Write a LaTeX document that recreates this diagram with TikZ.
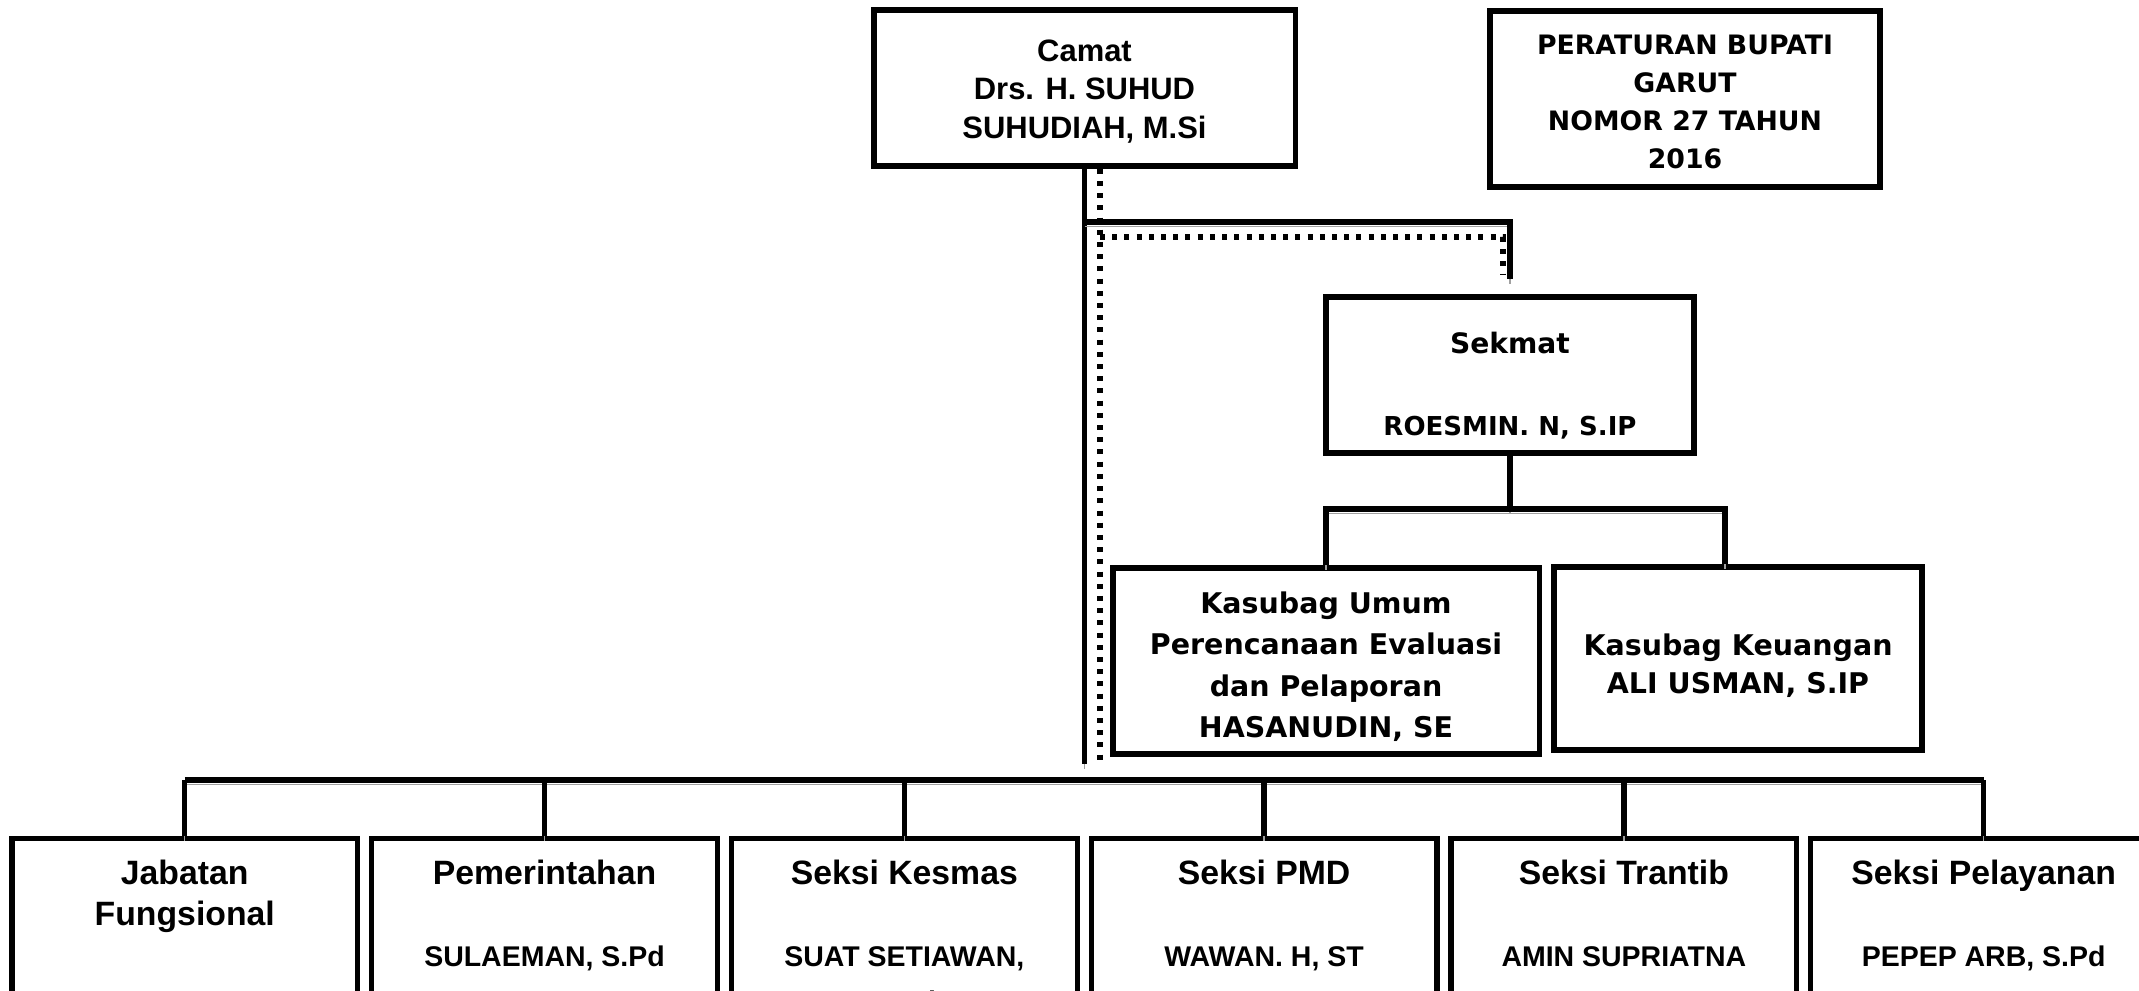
\documentclass[tikz,border=0pt]{standalone}
\usepackage{fontspec}
\setmainfont{Liberation Sans}
\newfontfamily\widefont{DejaVu Sans}
\usetikzlibrary{positioning}
\definecolor{shadowgray}{RGB}{160,160,160}
\newcommand{\nm}[1]{{\fontsize{8.1}{11.7}\selectfont #1}}
\newcommand{\topstrut}[1]{\rule{0pt}{#1}}
\newcommand{\seksitext}[1]{\parbox[c][2.36cm][t]{3.3cm}{\centering\topstrut{0.46cm}#1}}

\begin{document}
\begin{tikzpicture}[x=0.01cm, y=-0.01cm, node distance=0.088cm,
    box/.style={draw, line width=1.5pt, align=center, inner sep=0pt},
    headbox/.style={box, font=\fontsize{8.8}{10.9}\selectfont\bfseries},
    widebox/.style={box, font=\widefont\bfseries\fontsize{8.1}{11.7}\selectfont},
    seksi/.style={box, minimum width=3.455cm, font=\fontsize{9.6}{11.7}\selectfont\bfseries},
    link/.style={line width=1.5pt, preaction={draw=shadowgray, transform canvas={yshift=-1.3pt}}},
    dotlink/.style={line width=1.6pt, dash pattern=on 0.05cm off 0.072cm}]
    \useasboundingbox (0,0) rectangle (2139,990);

    \node [headbox, minimum width=4.21cm, minimum height=1.56cm] (camat) at (1084.5,88) {
      \topstrut{8pt}Camat \\ Drs. H. SUHUD \\ SUHUDIAH, M.Si} ;
    \node [widebox, minimum width=3.9cm, minimum height=1.76cm,
      font=\widefont\bfseries\fontsize{7.6}{10.8}\selectfont] (perbup) at (1685,99) {
      \topstrut{7.4pt}PERATURAN BUPATI \\ GARUT \\ NOMOR 27 TAHUN \\ 2016} ;
    \node [widebox, minimum width=3.68cm, minimum height=1.56cm,
      font=\widefont\bfseries\fontsize{7.4}{11.7}\selectfont] (sekmat) at (1510,375) {
      \topstrut{12.3pt}{\fontsize{8}{11.7}\selectfont Sekmat} \\[11.7pt] ROESMIN. N, S.IP} ;
      \node [widebox, minimum width=4.26cm, minimum height=1.86cm] (umum) at (1326,661) {
        \topstrut{9.4pt}Kasubag Umum \\ Perencanaan Evaluasi \\ dan Pelaporan \\ HASANUDIN, SE} ;
      \node [widebox, minimum width=3.68cm, minimum height=1.83cm,
        font=\widefont\bfseries\fontsize{8.1}{10.8}\selectfont] (keu) at (1738,658.5) {
        \topstrut{10pt}Kasubag Keuangan \\ ALI USMAN, S.IP} ;

    % seksi row
    \node [seksi, anchor=north] (jab) at (184.75,836) {\seksitext{Jabatan \\ Fungsional}} ;
    \node [seksi, right=of jab] (pem) {\seksitext{Pemerintahan \\[11.7pt] \nm{SULAEMAN, S.Pd}}} ;
    \node [seksi, right=of pem] (kes) {\seksitext{Seksi Kesmas \\[11.7pt] \nm{SUAT SETIAWAN,} \\[1pt] \nm{S.Pd}}} ;
    \node [seksi, right=of kes] (pmd) {\seksitext{Seksi PMD \\[11.7pt] \nm{WAWAN. H, ST}}} ;
    \node [seksi, right=of pmd] (tra) {\seksitext{Seksi Trantib \\[11.7pt] \nm{AMIN SUPRIATNA}}} ;
    \node [seksi, right=of tra] (pel) {\seksitext{Seksi Pelayanan \\[11.7pt] \nm{PEPEP ARB, S.Pd}}} ;

    \coordinate (trunkend) at (0,764) ;
    \coordinate (dotstart) at ([xshift=0.155cm]camat.south) ;
    \coordinate (keudrop) at ([xshift=-0.13cm]keu.north) ;
    \coordinate (bus) at (0,780) ;

    \draw [link] (camat.south) -- (camat.south |- trunkend) ;
    \draw [dotlink] (dotstart) -- (dotstart |- trunkend) ;
    \draw [link] (camat.south |- 0,222) -| ([yshift=0.15cm]sekmat.north) ;
    \draw [dotlink] (dotstart |- 0,237) -| ([xshift=-0.07cm, yshift=0.19cm]sekmat.north) ;
      \draw [link] (sekmat.south) -- (sekmat.south |- 0,509) ;
      \draw [link] (umum.north) |- (keudrop |- 0,509) -- (keudrop) ;
    \draw [link] (jab.north |- bus) -- (pel.north |- bus) ;
    \foreach \u in {jab,pem,kes,pmd,tra,pel}
      \draw [link] (\u.north |- bus) -- (\u.north) ;
\end{tikzpicture}
\end{document}
